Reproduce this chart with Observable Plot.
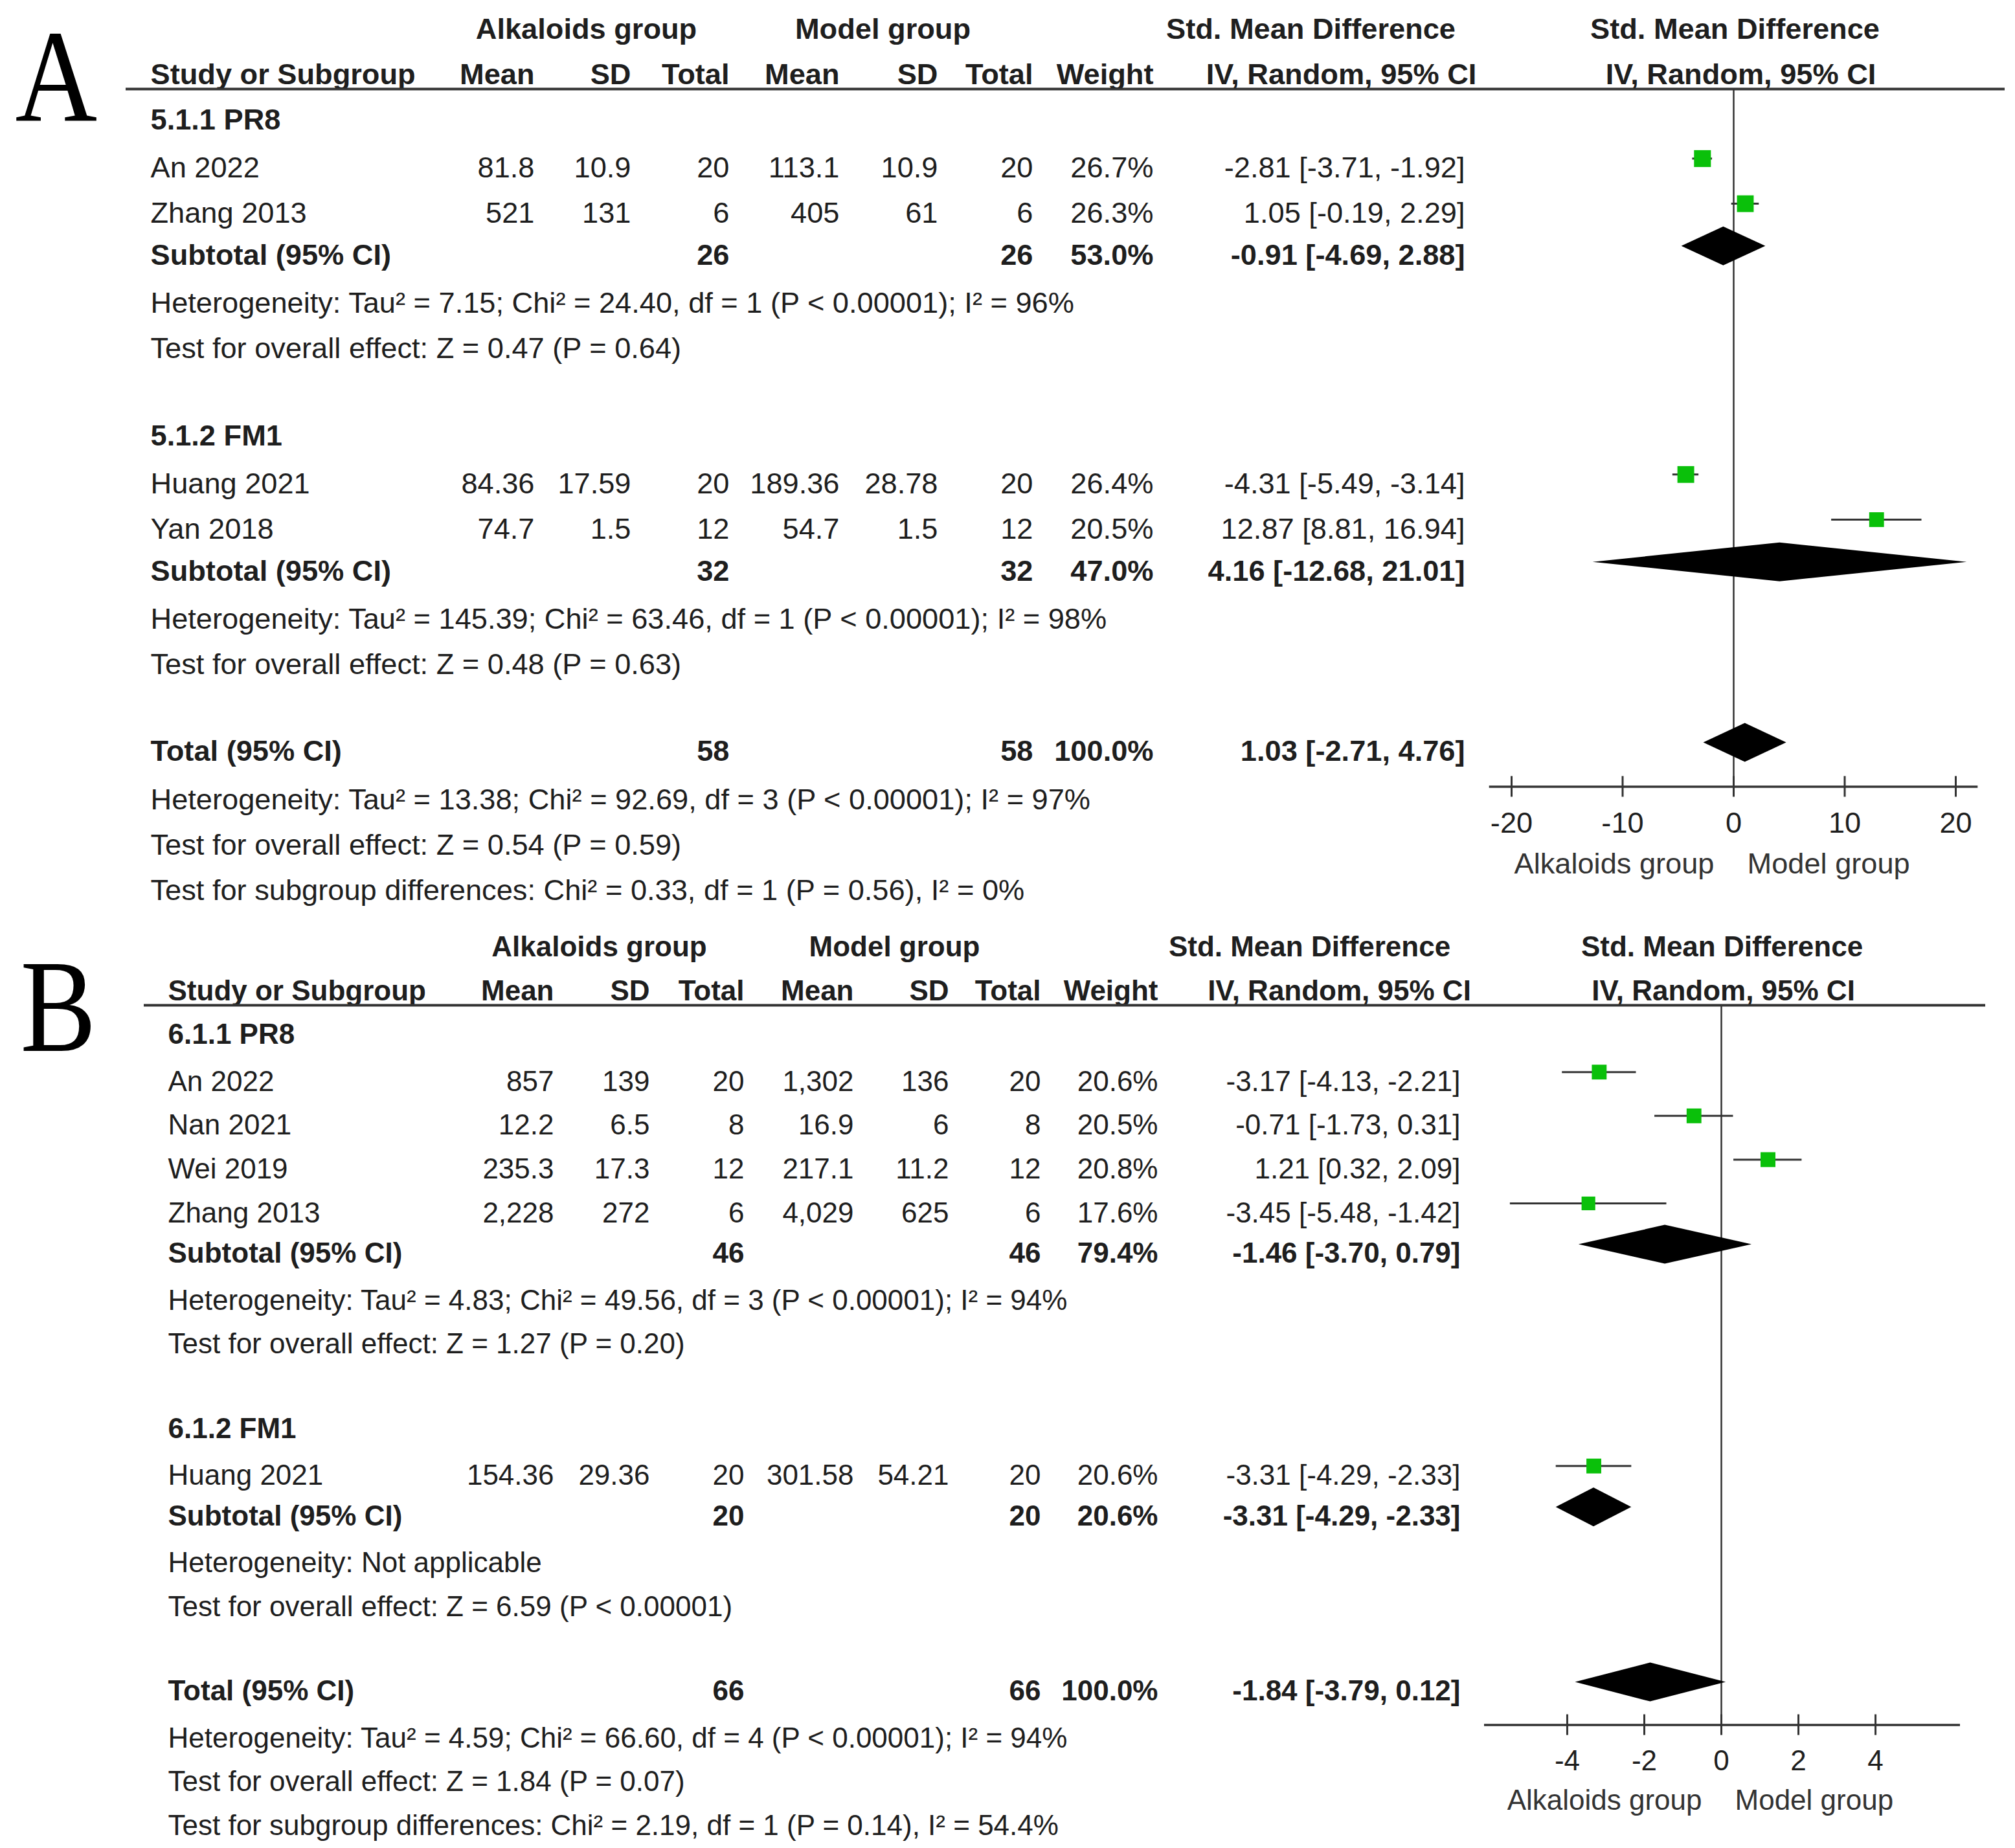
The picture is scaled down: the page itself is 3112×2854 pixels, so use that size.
<!DOCTYPE html>
<html><head><meta charset="utf-8">
<script src="https://cdn.jsdelivr.net/npm/d3@7"></script>
<script src="https://cdn.jsdelivr.net/npm/@observablehq/plot@0.6"></script>
<style>
html,body{margin:0;padding:0;background:#fff;}
#root{position:relative;width:3112px;height:2854px;overflow:hidden;background:#fff;}
.panel{position:absolute;left:0;width:3112px;overflow:hidden;}
.panel svg{display:block;}
</style></head><body><div id="root"></div>
<script>
// ================= shared labels =================
const headerTop = ["Alkaloids group", "Model group", "Std. Mean Difference", "Std. Mean Difference"];
const headerCols = ["Study or Subgroup", "Mean", "SD", "Total", "Mean", "SD", "Total", "Weight", "IV, Random, 95% CI", "IV, Random, 95% CI"];
const favourLabels = ["Alkaloids group", "Model group"];
const subtotalLabel = "Subtotal (95% CI)";
const totalLabel = "Total (95% CI)";

// ================= Panel A data =================
const groupsA = ["5.1.1 PR8", "5.1.2 FM1"];
const studiesA = ["An 2022", "Zhang 2013", "Huang 2021", "Yan 2018"];
const studyGroupA = [0, 0, 1, 1];
const expMeanA = ["81.8", "521", "84.36", "74.7"];
const expSDA = ["10.9", "131", "17.59", "1.5"];
const expNA = [20, 6, 20, 12];
const ctlMeanA = ["113.1", "405", "189.36", "54.7"];
const ctlSDA = ["10.9", "61", "28.78", "1.5"];
const ctlNA = [20, 6, 20, 12];
const weightA = [26.7, 26.3, 26.4, 20.5];
const smdA = [-2.81, 1.05, -4.31, 12.87];
const lowA = [-3.71, -0.19, -5.49, 8.81];
const highA = [-1.92, 2.29, -3.14, 16.94];
const subExpNA = [26, 32];
const subCtlNA = [26, 32];
const subWeightA = [53.0, 47.0];
const subSmdA = [-0.91, 4.16];
const subLowA = [-4.69, -12.68];
const subHighA = [2.88, 21.01];
const subHetA = [
  "Heterogeneity: Tau² = 7.15; Chi² = 24.40, df = 1 (P < 0.00001); I² = 96%",
  "Heterogeneity: Tau² = 145.39; Chi² = 63.46, df = 1 (P < 0.00001); I² = 98%"];
const subEffectA = [
  "Test for overall effect: Z = 0.47 (P = 0.64)",
  "Test for overall effect: Z = 0.48 (P = 0.63)"];
const totalNA = [58, 58];
const totalWeightA = 100.0;
const totalEstA = [1.03, -2.71, 4.76];
const totalNotesA = [
  "Heterogeneity: Tau² = 13.38; Chi² = 92.69, df = 3 (P < 0.00001); I² = 97%",
  "Test for overall effect: Z = 0.54 (P = 0.59)",
  "Test for subgroup differences: Chi² = 0.33, df = 1 (P = 0.56), I² = 0%"];
const ticksA = [-20, -10, 0, 10, 20];
const xDomainA = [-22, 22];

// ================= Panel B data =================
const groupsB = ["6.1.1 PR8", "6.1.2 FM1"];
const studiesB = ["An 2022", "Nan 2021", "Wei 2019", "Zhang 2013", "Huang 2021"];
const studyGroupB = [0, 0, 0, 0, 1];
const expMeanB = ["857", "12.2", "235.3", "2,228", "154.36"];
const expSDB = ["139", "6.5", "17.3", "272", "29.36"];
const expNB = [20, 8, 12, 6, 20];
const ctlMeanB = ["1,302", "16.9", "217.1", "4,029", "301.58"];
const ctlSDB = ["136", "6", "11.2", "625", "54.21"];
const ctlNB = [20, 8, 12, 6, 20];
const weightB = [20.6, 20.5, 20.8, 17.6, 20.6];
const smdB = [-3.17, -0.71, 1.21, -3.45, -3.31];
const lowB = [-4.13, -1.73, 0.32, -5.48, -4.29];
const highB = [-2.21, 0.31, 2.09, -1.42, -2.33];
const subExpNB = [46, 20];
const subCtlNB = [46, 20];
const subWeightB = [79.4, 20.6];
const subSmdB = [-1.46, -3.31];
const subLowB = [-3.70, -4.29];
const subHighB = [0.79, -2.33];
const subHetB = [
  "Heterogeneity: Tau² = 4.83; Chi² = 49.56, df = 3 (P < 0.00001); I² = 94%",
  "Heterogeneity: Not applicable"];
const subEffectB = [
  "Test for overall effect: Z = 1.27 (P = 0.20)",
  "Test for overall effect: Z = 6.59 (P < 0.00001)"];
const totalNB = [66, 66];
const totalWeightB = 100.0;
const totalEstB = [-1.84, -3.79, 0.12];
const totalNotesB = [
  "Heterogeneity: Tau² = 4.59; Chi² = 66.60, df = 4 (P < 0.00001); I² = 94%",
  "Test for overall effect: Z = 1.84 (P = 0.07)",
  "Test for subgroup differences: Chi² = 2.19, df = 1 (P = 0.14), I² = 54.4%"];
const ticksB = [-4, -2, 0, 2, 4];
const xDomainB = [-6.15, 6.2];

// ================= layout (styles / positions) =================
const layoutA = {
  letter: "A", letterX: 23, letterBase: 185,
  top: 0, clipHeight: 1400, svgHeight: 1400,
  rowY0: 115, rowStep: 69.7, fontSize: 45.2, plainDy: 5,
  studyX: 232, cols: [825, 974, 1126, 1296, 1448, 1595, 1781, 2262],
  topX: [905, 1363, 2024], forestTopDx: 2, ciHeadX: 2071, forestSubDx: 11,
  lineX: [194, 3096], lineY: 137, xRange: [2299.7, 3054.3], axisY: 1214.5,
  tickLabelDy: 57, favourDy: 120
};
const layoutB = {
  letter: "B", letterX: 31, letterBase: 222,
  top: 1400, clipHeight: 1454, svgHeight: 1454,
  rowY0: 130, rowStep: 67.6, fontSize: 44, plainDy: 5,
  studyX: 259, cols: [855, 1003, 1149, 1318, 1465, 1607, 1788, 2255],
  topX: [925, 1381, 2022], forestTopDx: 1, ciHeadX: 2068, forestSubDx: 3,
  lineX: [222, 3066], lineY: 152, xRange: [2292, 3027], axisY: 1263.5,
  tickLabelDy: 56, favourDy: 117
};

const fmt2 = v => v.toFixed(2);
const ciText = (e, l, h) => `${fmt2(e)} [${fmt2(l)}, ${fmt2(h)}]`;
const pct = w => w.toFixed(1) + "%";

function buildRows(p) {
  const rows = [];
  let r = 1;
  p.groups.forEach((g, gi) => {
    rows.push({row: r++, kind: "group", label: g});
    p.studies.forEach((s, i) => {
      if (p.studyGroup[i] !== gi) return;
      rows.push({row: r++, kind: "study", label: s,
        cells: [p.expMean[i], p.expSD[i], String(p.expN[i]), p.ctlMean[i], p.ctlSD[i], String(p.ctlN[i]), pct(p.weight[i]), ciText(p.smd[i], p.low[i], p.high[i])],
        est: p.smd[i], lo: p.low[i], hi: p.high[i], w: p.weight[i]});
    });
    rows.push({row: r++, kind: "subtotal", label: subtotalLabel,
      cells: ["", "", String(p.subExpN[gi]), "", "", String(p.subCtlN[gi]), pct(p.subWeight[gi]), ciText(p.subSmd[gi], p.subLow[gi], p.subHigh[gi])],
      est: p.subSmd[gi], lo: p.subLow[gi], hi: p.subHigh[gi]});
    rows.push({row: r++, kind: "note", label: p.subHet[gi]});
    rows.push({row: r++, kind: "note", label: p.subEffect[gi]});
    r++;
  });
  rows.push({row: r++, kind: "total", label: totalLabel,
    cells: ["", "", String(p.totalN[0]), "", "", String(p.totalN[1]), pct(p.totalWeight), ciText(...p.totalEst)],
    est: p.totalEst[0], lo: p.totalEst[1], hi: p.totalEst[2]});
  p.totalNotes.forEach(t => rows.push({row: r++, kind: "note", label: t}));
  return rows;
}

function panel(p, L) {
  const rows = buildRows(p);
  const lastRow = d3.max(rows, d => d.row);
  const ml = L.lineX[0], mr = 3112 - L.lineX[1];
  const toRow = px => (px - L.rowY0) / L.rowStep;
  const lineRow = toRow(L.lineY), axisRow = toRow(L.axisY);
  const tickHalf = 16 / L.rowStep, diaHalf = 30 / L.rowStep;
  const isBold = d => d.kind !== "study" && d.kind !== "note";
  const font = "Liberation Sans, Arial, Helvetica, sans-serif";
  const ink = "#1e1e1e";
  const fs = L.fontSize;
  const cellRows = rows.filter(d => d.cells);
  const studyRows = rows.filter(d => d.kind === "study");
  const poolRows = rows.filter(d => d.kind === "subtotal" || d.kind === "total");
  const diamonds = poolRows.flatMap((d, k) => [
    {id: k, y: d.row - diaHalf, x1: d.est, x2: d.est},
    {id: k, y: d.row, x1: d.lo, x2: d.hi},
    {id: k, y: d.row + diaHalf, x1: d.est, x2: d.est}]);
  const marks = [];
  // panel letter
  marks.push(Plot.text([L.letter], {text: d => d, frameAnchor: "top-left", dx: L.letterX - ml, dy: L.letterBase,
    lineAnchor: "bottom", textAnchor: "start", fontFamily: "Liberation Serif, Times New Roman, serif", fontSize: 204, fill: "#000"}));
  // header rows
  headerTop.slice(0, 3).forEach((h, j) => marks.push(Plot.text([h], {text: d => d, y: () => -1, frameAnchor: "left",
    dx: L.topX[j] - ml, textAnchor: "middle", fontWeight: 700, fontSize: fs, fill: ink})));
  marks.push(Plot.text([headerTop[3]], {text: d => d, x: () => 0, y: () => -1, dx: L.forestTopDx,
    textAnchor: "middle", fontWeight: 700, fontSize: fs, fill: ink}));
  marks.push(Plot.text([headerCols[0]], {text: d => d, y: () => 0, frameAnchor: "left", dx: L.studyX - ml,
    textAnchor: "start", fontWeight: 700, fontSize: fs, fill: ink}));
  headerCols.slice(1, 8).forEach((h, j) => marks.push(Plot.text([h], {text: d => d, y: () => 0, frameAnchor: "left",
    dx: L.cols[j] - ml, textAnchor: "end", fontWeight: 700, fontSize: fs, fill: ink})));
  marks.push(Plot.text([headerCols[8]], {text: d => d, y: () => 0, frameAnchor: "left", dx: L.ciHeadX - ml,
    textAnchor: "middle", fontWeight: 700, fontSize: fs, fill: ink}));
  marks.push(Plot.text([headerCols[9]], {text: d => d, x: () => 0, y: () => 0, dx: L.forestSubDx,
    textAnchor: "middle", fontWeight: 700, fontSize: fs, fill: ink}));
  // header rule
  marks.push(Plot.ruleY([lineRow], {y: d => d, stroke: "#333", strokeWidth: 4}));
  // row labels and cells
  [true, false].forEach(b => {
    const dy = b ? 0 : L.plainDy;
    marks.push(Plot.text(rows.filter(d => isBold(d) === b), {y: "row", text: "label", frameAnchor: "left",
      dx: L.studyX - ml, dy, textAnchor: "start", fontWeight: b ? 700 : 400, fontSize: fs, fill: ink}));
    L.cols.forEach((cx, j) => marks.push(Plot.text(cellRows.filter(d => isBold(d) === b), {y: "row", text: d => d.cells[j],
      frameAnchor: "left", dx: cx - ml, dy, textAnchor: "end", fontWeight: b ? 700 : 400, fontSize: fs, fill: ink})));
  });
  // forest: zero line, axis
  marks.push(Plot.ruleX([0], {x: d => d, y1: () => lineRow, y2: () => axisRow, stroke: "#333", strokeWidth: 2.5}));
  marks.push(Plot.ruleY([axisRow], {y: d => d, x1: () => p.xDomain[0], x2: () => p.xDomain[1], stroke: "#333", strokeWidth: 3.5}));
  marks.push(Plot.ruleX(p.ticks, {x: d => d, y1: () => axisRow - tickHalf, y2: () => axisRow + tickHalf, stroke: "#333", strokeWidth: 3}));
  marks.push(Plot.text(p.ticks, {x: d => d, y: () => axisRow, dy: L.tickLabelDy, text: d => String(d), fontSize: fs, fill: ink}));
  marks.push(Plot.text([favourLabels[0]], {text: d => d, x: () => 0, y: () => axisRow, dx: -30, dy: L.favourDy,
    textAnchor: "end", fontSize: fs, fill: "#333"}));
  marks.push(Plot.text([favourLabels[1]], {text: d => d, x: () => 0, y: () => axisRow, dx: 21, dy: L.favourDy,
    textAnchor: "start", fontSize: fs, fill: "#333"}));
  // CIs, squares, diamonds
  marks.push(Plot.ruleY(studyRows, {y: "row", x1: "lo", x2: "hi", dy: -10, stroke: "#333", strokeWidth: 3}));
  marks.push(Plot.dot(studyRows, {x: "est", y: "row", r: "w", symbol: "square", fill: "#0ac00a", stroke: "none", dy: -10}));
  marks.push(Plot.areaX(diamonds, {y: "y", x1: "x1", x2: "x2", z: "id", fill: "#000", curve: "linear", dy: -14}));

  const svg = Plot.plot({
    width: 3112, height: L.svgHeight,
    marginLeft: ml, marginRight: mr, marginTop: 0, marginBottom: 0,
    x: {domain: p.xDomain, range: L.xRange, axis: null},
    y: {domain: [-1, lastRow], range: [L.rowY0 - L.rowStep, L.rowY0 + L.rowStep * lastRow], axis: null},
    r: {type: "sqrt", domain: [0, 26.7], range: [0, 14.7]},
    style: {fontFamily: font, fontSize: fs + "px", background: "white", color: ink, overflow: "hidden"},
    marks
  });
  svg.querySelectorAll("text").forEach(t => {
    if (t.textContent === L.letter) {
      const tr = t.getAttribute("transform") || "";
      t.setAttribute("transform", tr + " scale(0.86,1)");
    }
  });
  const div = document.createElement("div");
  div.className = "panel";
  div.style.top = L.top + "px";
  div.style.height = L.clipHeight + "px";
  div.appendChild(svg);
  document.getElementById("root").appendChild(div);
}

panel({groups: groupsA, studies: studiesA, studyGroup: studyGroupA, expMean: expMeanA, expSD: expSDA, expN: expNA,
  ctlMean: ctlMeanA, ctlSD: ctlSDA, ctlN: ctlNA, weight: weightA, smd: smdA, low: lowA, high: highA,
  subExpN: subExpNA, subCtlN: subCtlNA, subWeight: subWeightA, subSmd: subSmdA, subLow: subLowA, subHigh: subHighA,
  subHet: subHetA, subEffect: subEffectA, totalN: totalNA, totalWeight: totalWeightA, totalEst: totalEstA,
  totalNotes: totalNotesA, ticks: ticksA, xDomain: xDomainA}, layoutA);
panel({groups: groupsB, studies: studiesB, studyGroup: studyGroupB, expMean: expMeanB, expSD: expSDB, expN: expNB,
  ctlMean: ctlMeanB, ctlSD: ctlSDB, ctlN: ctlNB, weight: weightB, smd: smdB, low: lowB, high: highB,
  subExpN: subExpNB, subCtlN: subCtlNB, subWeight: subWeightB, subSmd: subSmdB, subLow: subLowB, subHigh: subHighB,
  subHet: subHetB, subEffect: subEffectB, totalN: totalNB, totalWeight: totalWeightB, totalEst: totalEstB,
  totalNotes: totalNotesB, ticks: ticksB, xDomain: xDomainB}, layoutB);
</script></body></html>
